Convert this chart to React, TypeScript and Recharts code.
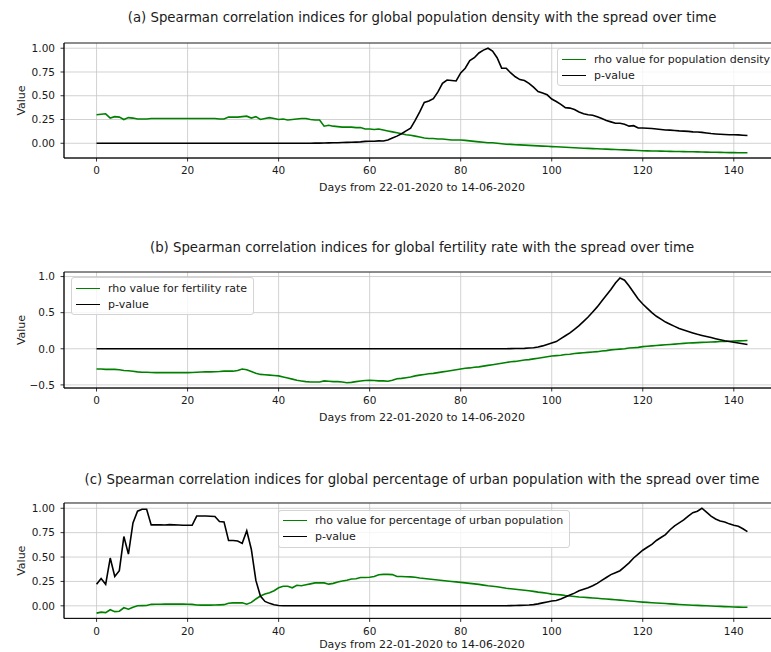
import {
  CartesianGrid,
  Legend,
  Line,
  LineChart,
  ReferenceArea,
  XAxis,
  YAxis,
} from "recharts";

// days 0..143 (22-01-2020 .. 14-06-2020)
const days: number[] = Array.from({ length: 144 }, (_, i) => i);
const xTicks = [0, 20, 40, 60, 80, 100, 120, 140];

// (a) population density
const rhoDensity = [
  0.30, 0.305, 0.31, 0.265, 0.28, 0.275, 0.25, 0.27, 0.265, 0.255, 0.255, 0.255,
  0.26, 0.26, 0.26, 0.26, 0.26, 0.26, 0.26, 0.26, 0.26, 0.26, 0.26, 0.26,
  0.26, 0.26, 0.26, 0.255, 0.255, 0.275, 0.275, 0.275, 0.28, 0.285, 0.265, 0.28,
  0.25, 0.26, 0.27, 0.26, 0.25, 0.255, 0.245, 0.25, 0.255, 0.26, 0.26, 0.25,
  0.245, 0.245, 0.18, 0.19, 0.18, 0.175, 0.17, 0.17, 0.17, 0.165, 0.165, 0.15,
  0.15, 0.145, 0.15, 0.14, 0.13, 0.12, 0.11, 0.10, 0.09, 0.085, 0.075, 0.065,
  0.055, 0.05, 0.05, 0.045, 0.045, 0.04, 0.035, 0.035, 0.035, 0.03, 0.025, 0.02,
  0.015, 0.01, 0.005, 0.005, 0.0, -0.005, -0.01, -0.012, -0.015, -0.017, -0.02, -0.022,
  -0.025, -0.027, -0.03, -0.032, -0.035, -0.037, -0.04, -0.042, -0.045, -0.047, -0.05, -0.052,
  -0.054, -0.056, -0.058, -0.06, -0.062, -0.064, -0.066, -0.068, -0.07, -0.072, -0.074, -0.076,
  -0.078, -0.08, -0.081, -0.082, -0.083, -0.084, -0.085, -0.086, -0.087, -0.088, -0.089, -0.09,
  -0.091, -0.092, -0.093, -0.094, -0.095, -0.096, -0.097, -0.098, -0.098, -0.099, -0.1, -0.1,
];
const pDensity = [
  0, 0, 0, 0, 0, 0, 0, 0, 0, 0, 0, 0,
  0, 0, 0, 0, 0, 0, 0, 0, 0, 0, 0, 0,
  0, 0, 0, 0, 0, 0, 0, 0, 0, 0, 0, 0,
  0, 0, 0, 0, 0, 0, 0, 0, 0, 0, 0, 0,
  0.001, 0.002, 0.003, 0.004, 0.005, 0.006, 0.008, 0.009, 0.01, 0.012, 0.015, 0.02,
  0.022, 0.022, 0.025, 0.024, 0.035, 0.055, 0.075, 0.10, 0.13, 0.16, 0.24, 0.33,
  0.43, 0.445, 0.47, 0.54, 0.63, 0.665, 0.66, 0.655, 0.74, 0.79, 0.87, 0.90,
  0.95, 0.98, 1.0, 0.97, 0.90, 0.79, 0.79, 0.74, 0.70, 0.67, 0.66, 0.63,
  0.59, 0.545, 0.53, 0.51, 0.465, 0.44, 0.41, 0.375, 0.37, 0.355, 0.33, 0.31,
  0.30, 0.295, 0.28, 0.26, 0.24, 0.225, 0.21, 0.21, 0.2, 0.18, 0.185, 0.16,
  0.16, 0.158, 0.155, 0.15, 0.145, 0.14, 0.138, 0.135, 0.13, 0.128, 0.125, 0.12,
  0.118, 0.115, 0.108, 0.102, 0.098, 0.095, 0.092, 0.09, 0.09, 0.088, 0.085, 0.082,
];

// (b) fertility rate
const rhoFertility = [
  -0.28, -0.28, -0.285, -0.285, -0.285, -0.29, -0.30, -0.305, -0.31, -0.32, -0.325, -0.325,
  -0.328, -0.33, -0.33, -0.33, -0.33, -0.33, -0.33, -0.33, -0.33, -0.328, -0.325, -0.322,
  -0.32, -0.32, -0.318, -0.315, -0.31, -0.31, -0.31, -0.30, -0.28, -0.29, -0.315, -0.34,
  -0.355, -0.36, -0.365, -0.37, -0.375, -0.39, -0.405, -0.42, -0.435, -0.445, -0.455, -0.46,
  -0.46, -0.46, -0.445, -0.45, -0.455, -0.455, -0.46, -0.47, -0.465, -0.455, -0.445, -0.44,
  -0.435, -0.44, -0.445, -0.445, -0.45, -0.435, -0.415, -0.41, -0.40, -0.39, -0.375, -0.365,
  -0.355, -0.345, -0.34, -0.33, -0.32, -0.31, -0.30, -0.29, -0.28, -0.27, -0.265, -0.255,
  -0.25, -0.24, -0.23, -0.22, -0.21, -0.20, -0.19, -0.18, -0.175, -0.165, -0.155, -0.15,
  -0.14, -0.13, -0.12, -0.11, -0.10, -0.095, -0.09, -0.08, -0.075, -0.065, -0.06, -0.055,
  -0.05, -0.045, -0.04, -0.03, -0.025, -0.015, -0.01, -0.005, 0.0, 0.01, 0.015, 0.02,
  0.03, 0.035, 0.04, 0.045, 0.05, 0.055, 0.06, 0.065, 0.07, 0.075, 0.08, 0.082,
  0.085, 0.088, 0.09, 0.093, 0.096, 0.10, 0.10, 0.105, 0.108, 0.11, 0.112, 0.115,
];
const pFertility = [
  0, 0, 0, 0, 0, 0, 0, 0, 0, 0, 0, 0,
  0, 0, 0, 0, 0, 0, 0, 0, 0, 0, 0, 0,
  0, 0, 0, 0, 0, 0, 0, 0, 0, 0, 0, 0,
  0, 0, 0, 0, 0, 0, 0, 0, 0, 0, 0, 0,
  0, 0, 0, 0, 0, 0, 0, 0, 0, 0, 0, 0,
  0, 0, 0, 0, 0, 0, 0, 0, 0, 0, 0, 0,
  0, 0, 0, 0, 0, 0, 0, 0, 0, 0, 0, 0,
  0, 0, 0, 0, 0, 0, 0.001, 0.002, 0.003, 0.004, 0.006, 0.01,
  0.015, 0.025, 0.04, 0.06, 0.08, 0.10, 0.14, 0.18, 0.22, 0.27, 0.32, 0.38,
  0.44, 0.51, 0.58, 0.66, 0.74, 0.82, 0.91, 0.98, 0.95, 0.87, 0.78, 0.69,
  0.62, 0.56, 0.50, 0.45, 0.41, 0.37, 0.34, 0.31, 0.28, 0.26, 0.24, 0.22,
  0.20, 0.185, 0.17, 0.155, 0.14, 0.125, 0.11, 0.10, 0.09, 0.08, 0.07, 0.06,
];

// (c) percentage of urban population
const rhoUrban = [
  -0.075, -0.065, -0.07, -0.04, -0.06, -0.055, -0.02, -0.035, -0.015, 0.0, 0.002, 0.003,
  0.015, 0.016, 0.016, 0.017, 0.017, 0.017, 0.017, 0.017, 0.016, 0.015, 0.008, 0.007,
  0.007, 0.007, 0.008, 0.01, 0.012, 0.027, 0.03, 0.03, 0.032, 0.017, 0.035, 0.07,
  0.10, 0.12, 0.135, 0.155, 0.185, 0.20, 0.20, 0.185, 0.21, 0.205, 0.215, 0.225,
  0.235, 0.235, 0.235, 0.222, 0.23, 0.245, 0.255, 0.262, 0.275, 0.277, 0.29, 0.29,
  0.292, 0.30, 0.318, 0.322, 0.322, 0.32, 0.30, 0.30, 0.298, 0.297, 0.293, 0.285,
  0.28, 0.275, 0.27, 0.265, 0.26, 0.255, 0.25, 0.245, 0.24, 0.235, 0.23, 0.225,
  0.22, 0.212, 0.205, 0.2, 0.195, 0.188, 0.18, 0.175, 0.17, 0.165, 0.16, 0.155,
  0.148, 0.14, 0.135, 0.128, 0.12, 0.116, 0.112, 0.105, 0.1, 0.095, 0.09, 0.087,
  0.084, 0.08, 0.077, 0.073, 0.07, 0.066, 0.062, 0.058, 0.054, 0.05, 0.046, 0.042,
  0.038, 0.035, 0.032, 0.029, 0.026, 0.023, 0.02, 0.017, 0.014, 0.011, 0.008, 0.006,
  0.004, 0.002, 0.0, -0.002, -0.004, -0.006, -0.008, -0.01, -0.012, -0.013, -0.014, -0.015,
];
const pUrban = [
  0.22, 0.28, 0.22, 0.49, 0.30, 0.36, 0.71, 0.53, 0.85, 0.97, 0.99, 0.99,
  0.83, 0.83, 0.83, 0.828, 0.832, 0.83, 0.828, 0.826, 0.826, 0.826, 0.92, 0.92,
  0.92, 0.918, 0.915, 0.865, 0.86, 0.67, 0.67, 0.665, 0.64, 0.77, 0.58, 0.26,
  0.10, 0.045, 0.025, 0.01, 0.003, 0.001, 0, 0, 0, 0, 0, 0,
  0, 0, 0, 0, 0, 0, 0, 0, 0, 0, 0, 0,
  0, 0, 0, 0, 0, 0, 0, 0, 0, 0, 0, 0,
  0, 0, 0, 0, 0, 0, 0, 0, 0, 0, 0, 0,
  0, 0, 0, 0, 0, 0, 0, 0.002, 0.003, 0.004, 0.006, 0.008,
  0.012, 0.02, 0.03, 0.04, 0.05, 0.055, 0.07, 0.09, 0.11, 0.13, 0.155, 0.17,
  0.185, 0.205, 0.23, 0.26, 0.29, 0.32, 0.34, 0.36, 0.40, 0.44, 0.49, 0.53,
  0.57, 0.60, 0.63, 0.67, 0.70, 0.73, 0.78, 0.82, 0.85, 0.88, 0.92, 0.955,
  0.97, 1.0, 0.96, 0.92, 0.89, 0.87, 0.86, 0.84, 0.825, 0.815, 0.79, 0.76,
];

const X_LABEL = "Days from 22-01-2020 to 14-06-2020";
const FONT = '"DejaVu Sans", sans-serif';
const TEXT = "#1a1a1a";
const GREEN = "#008000";

const CHART_W = 800;
const PLOT_LEFT = 64;
const PLOT_RIGHT_GAP = 20;
const AXIS_H = 36;
const PAD_TOP = 4;
const X_DOMAIN: [number, number] = [-7.15, 150.15];

interface LegendEntry {
  value: string;
  color?: string;
}

function LegendBox({ payload }: { payload?: LegendEntry[] }) {
  // rho first, p-value second, as in the source figure
  const items = [...(payload ?? [])].sort(
    (a, b) => Number(a.value === "p-value") - Number(b.value === "p-value"),
  );
  return (
    <div
      style={{
        background: "rgba(255,255,255,0.8)",
        border: "1px solid #d4d4d4",
        borderRadius: 3,
        padding: "2px 6px 2px 4px",
        fontFamily: FONT,
        fontSize: 11,
        color: TEXT,
        whiteSpace: "nowrap",
      }}
    >
      {items.map((p) => (
        <div
          key={p.value}
          style={{ display: "flex", alignItems: "center", height: 16 }}
        >
          <span
            style={{
              display: "inline-block",
              width: 24,
              borderTop: `1.6px solid ${p.color}`,
              marginRight: 8,
            }}
          />
          <span>{p.value}</span>
        </div>
      ))}
    </div>
  );
}

interface PanelProps {
  title: string;
  titleY: number;
  rho: number[];
  pval: number[];
  rhoLabel: string;
  plotTop: number;
  plotHeight: number;
  yDomain: [number, number];
  yTicks: number[];
  yFormat: (v: number) => string;
  legendLeft: number;
  legendTop: number;
  xLabelOffset?: number;
}

function Panel(props: PanelProps) {
  const { title, titleY, rho, pval, rhoLabel, plotTop, plotHeight } = props;
  const chartTop = plotTop - PAD_TOP;
  const height = PAD_TOP + plotHeight + AXIS_H;
  const data = days.map((d, i) => ({ day: d, rho: rho[i], p: pval[i] }));
  const tickStyle = { fontSize: 10.5, fill: TEXT, fontFamily: FONT };

  return (
    <>
      <div
        style={{
          position: "absolute",
          left: 0,
          width: 2 * (PLOT_LEFT + (CHART_W - PLOT_LEFT - PLOT_RIGHT_GAP) / 2),
          top: titleY - 8,
          height: 16,
          lineHeight: "16px",
          textAlign: "center",
          fontFamily: FONT,
          fontSize: 13.3,
          color: TEXT,
          whiteSpace: "nowrap",
        }}
      >
        {title}
      </div>
      <div style={{ position: "absolute", left: 0, top: chartTop }}>
        <LineChart
          width={CHART_W}
          height={height}
          data={data}
          margin={{ top: PAD_TOP, right: PLOT_RIGHT_GAP, left: 0, bottom: 0 }}
        >
          <CartesianGrid stroke="#c6c6c6" strokeWidth={0.8} />
          <XAxis
            type="number"
            dataKey="day"
            domain={X_DOMAIN}
            ticks={xTicks}
            height={AXIS_H}
            tickSize={3.5}
            tickMargin={5.5}
            tick={tickStyle}
            axisLine={{ stroke: "#000", strokeWidth: 0.8 }}
            tickLine={{ stroke: "#000", strokeWidth: 0.8 }}
            label={{
              value: X_LABEL,
              position: "insideBottom",
              offset: props.xLabelOffset ?? 3.5,
              fontSize: 11,
              fill: TEXT,
              fontFamily: FONT,
            }}
          />
          <YAxis
            type="number"
            domain={props.yDomain}
            ticks={props.yTicks}
            tickFormatter={props.yFormat}
            width={PLOT_LEFT}
            tickSize={3.5}
            tickMargin={5.5}
            tick={tickStyle}
            axisLine={{ stroke: "#000", strokeWidth: 0.8 }}
            tickLine={{ stroke: "#000", strokeWidth: 0.8 }}
            label={{
              content: () => (
                <text
                  x={21}
                  y={PAD_TOP + plotHeight / 2}
                  transform={`rotate(-90 21 ${PAD_TOP + plotHeight / 2})`}
                  textAnchor="middle"
                  dominantBaseline="central"
                  fontSize={11}
                  fontFamily={FONT}
                  fill={TEXT}
                >
                  Value
                </text>
              ),
            }}
          />
          <Line
            type="linear"
            dataKey="rho"
            name={rhoLabel}
            stroke={GREEN}
            strokeWidth={1.6}
            dot={false}
            isAnimationActive={false}
          />
          <Line
            type="linear"
            dataKey="p"
            name="p-value"
            stroke="#000"
            strokeWidth={1.6}
            dot={false}
            isAnimationActive={false}
          />
          <ReferenceArea
            x1={X_DOMAIN[0]}
            x2={X_DOMAIN[1]}
            y1={props.yDomain[0]}
            y2={props.yDomain[1]}
            fill="none"
            stroke="#000"
            strokeWidth={0.8}
            ifOverflow="visible"
          />
          <Legend
            layout="horizontal"
            verticalAlign="middle"
            align="center"
            content={<LegendBox />}
            wrapperStyle={{
              left: props.legendLeft,
              top: props.legendTop - chartTop,
              width: "auto",
              height: "auto",
            }}
          />
        </LineChart>
      </div>
    </>
  );
}

const fmt2 = (v: number) => v.toFixed(2);
const fmt1 = (v: number) => (v < 0 ? "\u2212" + Math.abs(v).toFixed(1) : v.toFixed(1));

export default function App() {
  return (
    <div
      style={{
        position: "absolute",
        left: 0,
        top: 0,
        width: 771,
        height: 652,
        overflow: "hidden",
        background: "#fff",
      }}
    >
      <Panel
        title="(a) Spearman correlation indices for global population density with the spread over time"
        titleY={18}
        rho={rhoDensity}
        pval={pDensity}
        rhoLabel="rho value for population density"
        plotTop={42.5}
        plotHeight={115}
        yDomain={[-0.155, 1.055]}
        yTicks={[0, 0.25, 0.5, 0.75, 1]}
        yFormat={fmt2}
        legendLeft={557}
        legendTop={48}
      />
      <Panel
        title="(b) Spearman correlation indices for global fertility rate with the spread over time"
        titleY={248}
        rho={rhoFertility}
        pval={pFertility}
        rhoLabel="rho value for fertility rate"
        plotTop={272}
        plotHeight={116}
        yDomain={[-0.543, 1.063]}
        yTicks={[-0.5, 0, 0.5, 1]}
        yFormat={fmt1}
        legendLeft={71}
        legendTop={277}
      />
      <Panel
        title="(c) Spearman correlation indices for global percentage of urban population with the spread over time"
        titleY={480}
        rho={rhoUrban}
        pval={pUrban}
        rhoLabel="rho value for percentage of urban population"
        plotTop={503.2}
        plotHeight={115.4}
        yDomain={[-0.129, 1.054]}
        yTicks={[0, 0.25, 0.5, 0.75, 1]}
        yFormat={fmt2}
        legendLeft={278}
        legendTop={510}
        xLabelOffset={6}
      />
    </div>
  );
}
